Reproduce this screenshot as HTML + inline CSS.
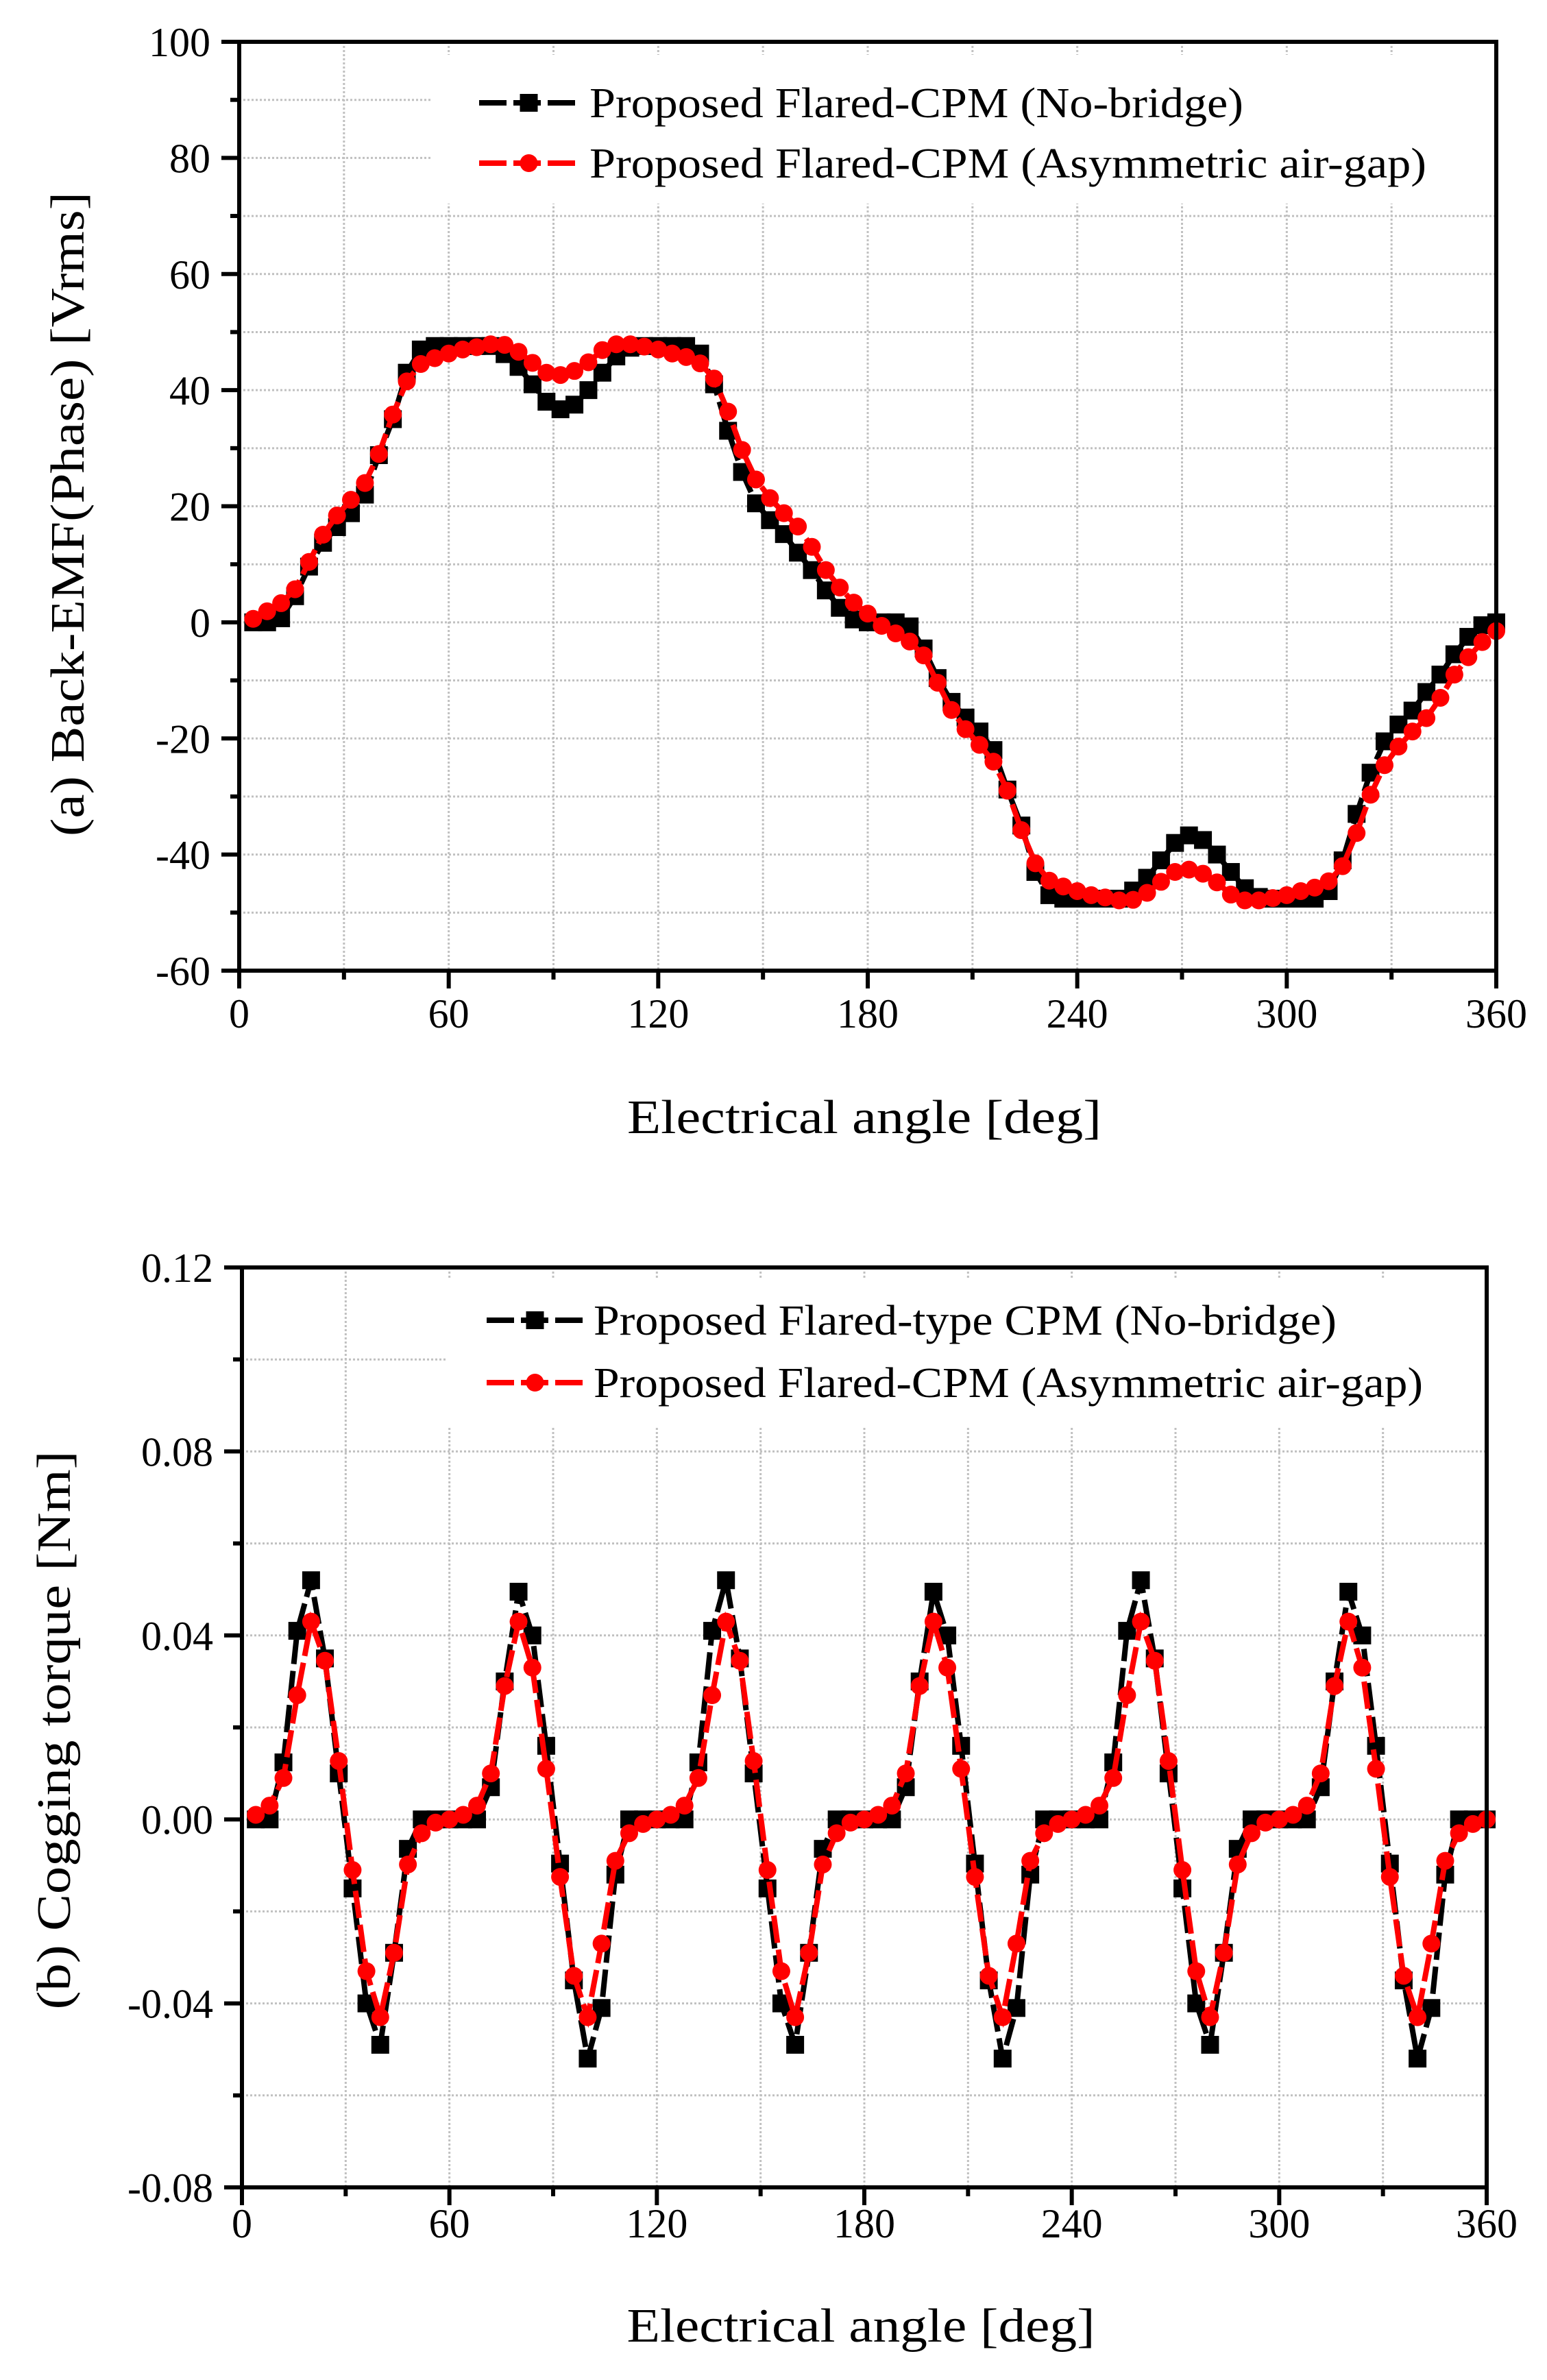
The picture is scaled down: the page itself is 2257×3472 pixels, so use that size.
<!DOCTYPE html>
<html><head><meta charset="utf-8"><style>
html,body{margin:0;padding:0;background:#fff;}
svg{display:block;font-family:"Liberation Serif",serif;}
</style></head><body>
<svg id="s" width="2257" height="3472" viewBox="0 0 2257 3472" xmlns="http://www.w3.org/2000/svg">
<rect width="2257" height="3472" fill="#fff"/>
<g id="g"></g>
<text x="1261" y="1653" font-size="70" text-anchor="middle" textLength="692" lengthAdjust="spacingAndGlyphs">Electrical angle [deg]</text>
<text transform="translate(122,750) rotate(-90)" font-size="70" text-anchor="middle" textLength="940" lengthAdjust="spacingAndGlyphs">(a) Back-EMF(Phase) [Vrms]</text>
<text x="1256" y="3416" font-size="70" text-anchor="middle" textLength="683" lengthAdjust="spacingAndGlyphs">Electrical angle [deg]</text>
<text transform="translate(102,2524) rotate(-90)" font-size="70" text-anchor="middle" textLength="815" lengthAdjust="spacingAndGlyphs">(b) Cogging torque [Nm]</text>
</svg>
<script>
const NS="http://www.w3.org/2000/svg",G=document.getElementById('g');
function el(t,a,txt){const e=document.createElementNS(NS,t);for(const k in a)e.setAttribute(k,a[k]);if(txt!==undefined)e.textContent=txt;G.appendChild(e);return e;}
const SW=8,SQ=26,CR=13,DA='40,10';
function plot(o){
 const X=v=>o.L+(o.R-o.L)*v/360, Y=v=>o.B-(o.B-o.T)*(v-o.ymin)/(o.ymax-o.ymin);
 for(let d=30;d<360;d+=30)el('line',{x1:X(d),x2:X(d),y1:o.T,y2:o.B,stroke:'#c0c0c0','stroke-width':3,'stroke-dasharray':'3,3'});
 for(let i=1;i<o.ny;i++){const v=o.ymin+(o.ymax-o.ymin)*i/o.ny;el('line',{x1:o.L,x2:o.R,y1:Y(v),y2:Y(v),stroke:'#c0c0c0','stroke-width':3,'stroke-dasharray':'3,3'});}
 el('rect',{x:o.lg.x0,y:o.lg.y0,width:o.R-o.lg.x0,height:o.lg.y1-o.lg.y0,fill:'#fff'});
 o.series.forEach(s=>{
  const pts=s.d.map(p=>X(p[0]).toFixed(1)+','+Y(p[1]).toFixed(1)).join(' ');
  el('polyline',{points:pts,fill:'none',stroke:s.c,'stroke-width':SW,'stroke-dasharray':DA});
  s.d.forEach(p=>{const x=X(p[0]),y=Y(p[1]);
   if(s.m=='sq')el('rect',{x:x-SQ/2,y:y-SQ/2,width:SQ,height:SQ,fill:s.c});
   else el('circle',{cx:x,cy:y,r:CR,fill:s.c});});
 });
 el('rect',{x:o.L,y:o.T,width:o.R-o.L,height:o.B-o.T,fill:'none',stroke:'#000','stroke-width':6});
 for(let d=0;d<=360;d+=30){const L=d%60==0?26:13;el('line',{x1:X(d),x2:X(d),y1:o.B,y2:o.B+L,stroke:'#000','stroke-width':6});
  if(d%60==0)el('text',{x:X(d),y:o.xly,'font-size':60,'text-anchor':'middle'},String(d));}
 for(let i=0;i<=o.ny;i++){const v=o.ymin+(o.ymax-o.ymin)*i/o.ny;const maj=i%2==0;
  el('line',{x1:o.L-(maj?26:13),x2:o.L,y1:Y(v),y2:Y(v),stroke:'#000','stroke-width':6});
  if(maj)el('text',{x:o.L-42,y:Y(v)+21,'font-size':60,'text-anchor':'end'},o.fmt(v));}
 o.lg.items.forEach((it,k)=>{const y=o.lg.ys[k];
  el('line',{x1:o.lg.lx0,x2:o.lg.lx1,y1:y,y2:y,stroke:it.c,'stroke-width':SW,'stroke-dasharray':DA});
  const cx=(o.lg.lx0+o.lg.lx1)/2;
  if(it.m=='sq')el('rect',{x:cx-SQ/2,y:y-SQ/2,width:SQ,height:SQ,fill:it.c});else el('circle',{cx:cx,cy:y,r:CR,fill:it.c});
  el('text',{x:o.lg.tx,y:y+21,'font-size':62,textLength:it.len,lengthAdjust:'spacingAndGlyphs'},it.t);});
}
const bH=[0,0,0.7,4.5,9.6,13.7,16.4,18.8,22,28.8,35,43,47,47.6,47.6,47.6,47.6,47.6,46.2,44,41,38,36.7,37.5,40,43,45.8,47.3,47.6,47.6,47.6,47.6,46.3,41,33,25.9,20.5,17.6,15.2,12,9,5.5,2.5,0.5,0];
const rH=[0.6,1.9,3.3,5.7,10.4,15.1,18.4,21.1,24,29,35.8,41.5,44.5,45.5,46.3,47,47.4,47.9,47.8,46.6,44.7,43,42.6,43.3,44.8,46.9,47.9,47.9,47.5,47,46.3,45.7,44.6,42,36.3,29.7,24.6,21.4,18.8,16.5,13,9,6,3.4,1.5];
function full(h){const d=[];h.forEach((v,i)=>d.push([4*(i+1),v]));h.forEach((v,i)=>d.push([180+4*(i+1),-v]));return d;}
plot({L:349,R:2183,T:61,B:1416,ymin:-60,ymax:100,ny:16,xly:1499,fmt:v=>String(Math.round(v)),
 series:[{d:full(bH),c:'#000',m:'sq'},{d:full(rH),c:'#f00',m:'ci'}],
 lg:{x0:630,y0:80,y1:297,lx0:699,lx1:844,tx:860,ys:[150,238],items:[{c:'#000',m:'sq',t:'Proposed Flared-CPM (No-bridge)',len:954},{c:'#f00',m:'ci',t:'Proposed Flared-CPM (Asymmetric air-gap)',len:1221}]}});
const bA=[0,0,.0124,.041,.052,.035,.01,-.015,-.040,-.049,-.029,-.0064,0,0,0];
const bB=[0,0,.007,.03,.0495,.04,.016,-.0096,-.035,-.052,-.041,-.012,0,0,0];
const rA=[.001,.003,.009,.027,.043,.0345,.0127,-.011,-.033,-.043,-.029,-.0098,-.003,-.0007,0];
const rB=[.001,.003,.01,.029,.043,.033,.011,-.0125,-.034,-.043,-.027,-.009,-.003,-.001,0];
function cog(A,B){const d=[];for(let p=0;p<3;p++){A.forEach((v,i)=>d.push([p*120+4*(i+1),v]));B.forEach((v,i)=>d.push([p*120+60+4*(i+1),v]));}return d;}
plot({L:353,R:2169,T:1849,B:3191,ymin:-0.08,ymax:0.12,ny:10,xly:3264,fmt:v=>Math.abs(v)<1e-9?'0.00':v.toFixed(2),
 series:[{d:cog(bA,bB),c:'#000',m:'sq'},{d:cog(rA,rB),c:'#f00',m:'ci'}],
 lg:{x0:653,y0:1866,y1:2083,lx0:710,lx1:851,tx:866,ys:[1926,2017],items:[{c:'#000',m:'sq',t:'Proposed Flared-type CPM (No-bridge)',len:1084},{c:'#f00',m:'ci',t:'Proposed Flared-CPM (Asymmetric air-gap)',len:1210}]}});
</script>
</body></html>
